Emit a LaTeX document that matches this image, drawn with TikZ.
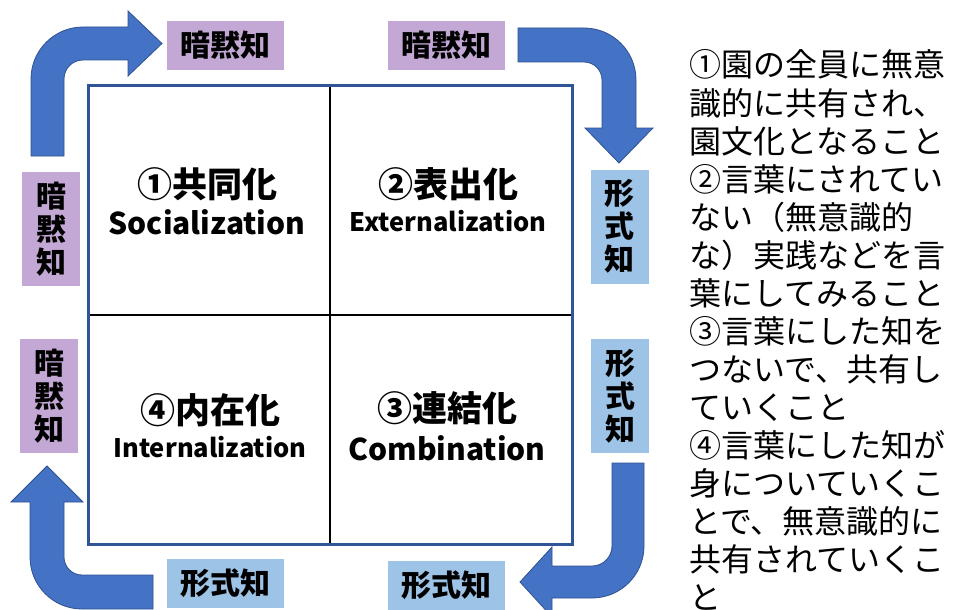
\documentclass[tikz,border=0pt]{standalone}
\usepackage{fontspec}
\setmainfont{Noto Sans CJK JP}
\definecolor{arrowblue}{RGB}{68,114,196}
\definecolor{arrowedge}{RGB}{47,82,143}
\definecolor{gridblue}{RGB}{47,85,151}
\definecolor{tacit}{RGB}{195,168,214}
\definecolor{explicit}{RGB}{157,195,230}
\tikzset{
  blockarrow/.style={fill=arrowblue, draw=arrowedge, line width=0.8pt},
  hlbl/.style={inner sep=0pt, minimum width=117pt, minimum height=49pt, font=\bfseries\fontsize{30}{33}\selectfont},
  vlbl/.style={inner sep=0pt, minimum width=58pt, minimum height=114pt, align=center, font=\bfseries\fontsize{30}{33}\selectfont},
  qtitle/.style={inner sep=0pt, font=\bfseries\fontsize{35}{38}\selectfont},
  qeng/.style={inner sep=0pt, font=\bfseries\fontsize{30}{32}\selectfont},
  qengs/.style={inner sep=0pt, font=\bfseries\fontsize{25.5}{30}\selectfont},
  desc/.style={inner sep=0pt, anchor=base west, font=\fontsize{32}{38}\selectfont}
}
\begin{document}
\begin{tikzpicture}[x=1pt,y=-1pt]
\useasboundingbox (0,0) rectangle (953,610);
\clip (0,0) rectangle (953,610);
\fill[white] (0,0) rectangle (953,610);

% block arrows
\path[blockarrow] (31,156) -- (31,79) arc[start angle=180, end angle=270, radius=52]
  -- (128,27) -- (128,11) -- (162,43.5) -- (128,76) -- (128,60) -- (83,60)
  arc[start angle=270, end angle=180, radius=19] -- (64,156) -- cycle;
\path[blockarrow] (518,28) -- (584,28) arc[start angle=270, end angle=360, radius=52]
  -- (636,128) -- (653,128) -- (619,163) -- (585,128) -- (602,128) -- (602,80)
  arc[start angle=0, end angle=-90, radius=18] -- (518,62) -- cycle;
\path[blockarrow] (612,463) -- (644,463) -- (644,546) arc[start angle=0, end angle=90, radius=52]
  -- (552,598) -- (552,617) -- (520,582) -- (552,547) -- (552,566) -- (592,566)
  arc[start angle=90, end angle=0, radius=20] -- cycle;
\path[blockarrow] (153,575) -- (82,575) arc[start angle=90, end angle=180, radius=18]
  -- (64,502) -- (83,502) -- (47,466) -- (11,502) -- (30,502) -- (30,557)
  arc[start angle=180, end angle=90, radius=52] -- (153,609) -- cycle;

% labels
\node[hlbl, fill=tacit] (tl) at (225,45.5) {暗黙知};
\node[hlbl, fill=tacit] (tr) at (446.5,45.5) {暗黙知};
\node[vlbl, fill=tacit] (l1) at (51,229) {暗\\黙\\知};
\node[vlbl, fill=tacit] (l2) at (49,396) {暗\\黙\\知};
\node[vlbl, fill=explicit] (r1) at (619.5,226.5) {形\\式\\知};
\node[vlbl, fill=explicit] (r2) at (620,396) {形\\式\\知};
\node[hlbl, fill=explicit] (bl) at (225,583) {形式知};
\node[hlbl, fill=explicit] (br) at (446.5,585) {形式知};

% grid
\coordinate (gtl) at (88,85);
\coordinate (gbr) at (572,544);
\coordinate (vt) at (330,85);
\coordinate (vb) at (330,544);
\coordinate (hl) at (88,315);
\coordinate (hr) at (572,315);
\draw[black, line width=2.5pt] (vt) -- (vb);
\draw[black, line width=2.5pt] (hl) -- (hr);
\draw[gridblue, line width=3pt] (gtl) rectangle (gbr);

% quadrant texts
\node[qtitle] (q1t) at (207,184) {①共同化};
\node[qeng] (q1e) at (207,222) {Socialization};
\node[qtitle] (q2t) at (448,184) {②表出化};
\node[qengs] (q2e) at (448,221) {Externalization};
\node[qtitle] (q4t) at (210,410) {④内在化};
\node[qengs] (q4e) at (210,447) {Internalization};
\node[qtitle] (q3t) at (447,408) {③連結化};
\node[qeng] (q3e) at (447,448) {Combination};

% description
\foreach \t [count=\i] in {①園の全員に無意, 識的に共有され、, 園文化となること, ②言葉にされてい, ない（無意識的, な）実践などを言, 葉にしてみること, ③言葉にした知を, つないで、共有し, ていくこと, ④言葉にした知が, 身についていくこ, とで、無意識的に, 共有されていくこ, と}
  \node[desc] (d\i) at (689,{77+38*(\i-1)}) {\t};
\end{tikzpicture}
\end{document}
